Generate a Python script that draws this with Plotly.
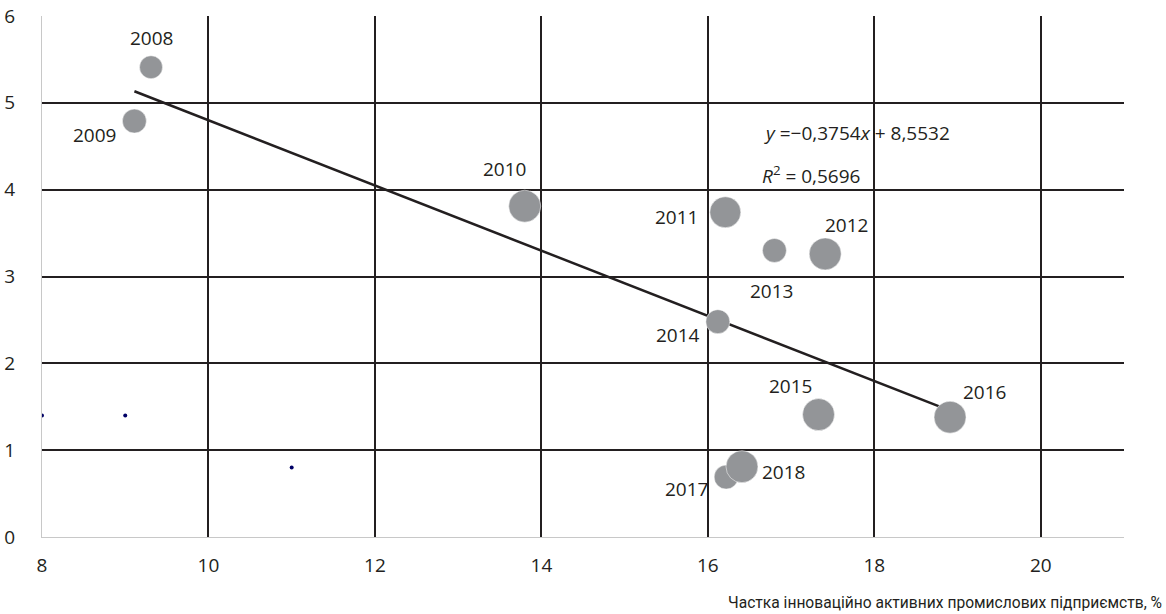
import plotly.graph_objects as go

# Main series (bubbles)
years = ["2008", "2009", "2010", "2011", "2012", "2013", "2014", "2015", "2016", "2017", "2018"]
share_innov = [9.31, 9.11, 13.80, 16.21, 17.41, 16.80, 16.12, 17.33, 18.91, 16.22, 16.41]
y_values = [5.41, 4.79, 3.81, 3.74, 3.26, 3.30, 2.48, 1.41, 1.38, 0.69, 0.81]
bubble_size = [23, 24, 32, 31, 32, 24, 24, 32, 32, 24, 32]

# Secondary small points
extra_x = [8, 9, 11]
extra_y = [1.4, 1.4, 0.8]

# Trend line coefficients (from equation in chart)
slope = -0.3754
intercept = 8.5532
r2 = 0.5696

x_ticks = [8, 10, 12, 14, 16, 18, 20]
y_ticks = [0, 1, 2, 3, 4, 5, 6]
x_title = "Частка інноваційно активних промислових підприємств, %"

# label offsets in px (xshift, yshift)
label_offsets = {
    "2008": (0, 29), "2009": (-40, -14), "2010": (-20, 37), "2011": (-49, -5),
    "2012": (21, 29), "2013": (-3, -41), "2014": (-40, -13), "2015": (-28, 29),
    "2016": (34, 25), "2017": (-40, -12), "2018": (42, -5),
}

FONT = "Open Sans"
DARK = "#231f20"
L, R, T, B = 42, 42, 16, 77
PW, PH = 1166 - L - R, 614 - T - B

fig = go.Figure()

xmin, xmax = min(share_innov), max(share_innov)
fig.add_trace(go.Scatter(
    x=[xmin, xmax], y=[slope * xmin + intercept, slope * xmax + intercept],
    mode="lines", line=dict(color=DARK, width=2.5), hoverinfo="skip", showlegend=False))

fig.add_trace(go.Scatter(
    x=share_innov, y=y_values, mode="markers",
    marker=dict(size=bubble_size, color="#939598", line=dict(color="white", width=0.5), opacity=1),
    showlegend=False))

fig.add_trace(go.Scatter(
    x=extra_x, y=extra_y, mode="markers",
    marker=dict(size=4, color="#000066"), showlegend=False))

for yr, xv, yv in zip(years, share_innov, y_values):
    dx, dy = label_offsets[yr]
    fig.add_annotation(x=xv, y=yv, text=yr, showarrow=False, xshift=dx, yshift=dy,
                       font=dict(family=FONT, size=19, color=DARK))

fig.add_annotation(xref="paper", yref="paper", x=(762 - L) / PW, y=(537 - 133) / PH,
                   xanchor="left", yanchor="middle", showarrow=False,
                   text="<i>y</i> =−" + f"{abs(slope):.4f}".replace(".", ",") + "<i>x</i> + " + f"{intercept:.4f}".replace(".", ","),
                   font=dict(family=FONT, size=19, color=DARK))
fig.add_annotation(xref="paper", yref="paper", x=(760 - L) / PW, y=(537 - 175) / PH,
                   xanchor="left", yanchor="middle", showarrow=False,
                   text="<i>R</i><sup>2</sup> = " + f"{r2:.4f}".replace(".", ","),
                   font=dict(family=FONT, size=19, color=DARK))

fig.add_annotation(xref="paper", yref="paper", x=(1164 - L) / PW, y=(537 - 603) / PH,
                   xanchor="right", yanchor="middle", showarrow=False, text=x_title,
                   font=dict(family="Roboto", size=15.6, color=DARK))

fig.update_layout(
    width=1166, height=614,
    margin=dict(l=L, r=R, t=T, b=B, autoexpand=False),
    plot_bgcolor="white", paper_bgcolor="white",
    font=dict(family=FONT, size=19, color=DARK),
)
fig.update_xaxes(range=[8, 21], tickvals=x_ticks, showgrid=True, gridcolor=DARK, gridwidth=2,
                 showline=True, linecolor="#c8c8c8", linewidth=1, zeroline=False, automargin=False,
                 ticks="", ticklabelstandoff=11, tickfont=dict(family=FONT, size=19, color=DARK))
fig.update_yaxes(range=[0, 6], tickvals=y_ticks, showgrid=True, gridcolor=DARK, gridwidth=2,
                 showline=True, linecolor="#c8c8c8", linewidth=1, zeroline=False, automargin=False,
                 ticks="", ticklabelstandoff=22, tickfont=dict(family=FONT, size=19, color=DARK))

fig.write_html("out.html", config={"displayModeBar": False},
               post_script="document.body.style.margin='0';document.body.style.overflow='hidden';")
